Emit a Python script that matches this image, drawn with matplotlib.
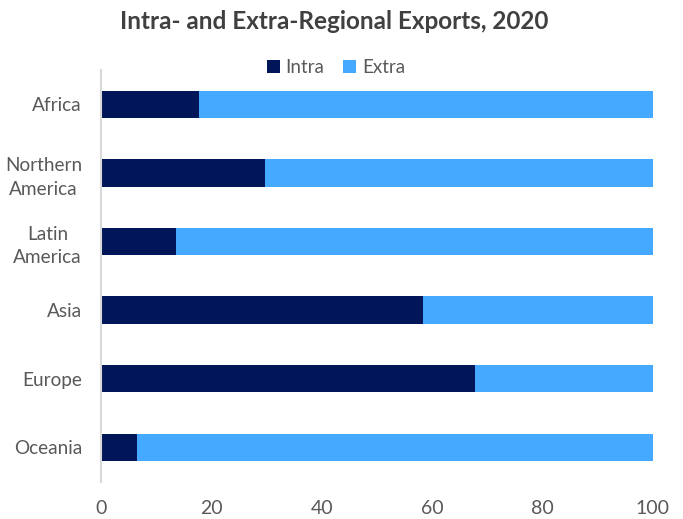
import matplotlib.pyplot as plt

regions = ['Africa', 'Northern\nAmerica', 'Latin\nAmerica', 'Asia', 'Europe', 'Oceania']
intra = [17.7, 29.7, 13.6, 58.3, 67.7, 6.4]
extra = [100 - v for v in intra]

plt.rcParams['font.family'] = ['Lato', 'DejaVu Sans']

fig = plt.figure(figsize=(6.83, 5.19), dpi=100)
ax = fig.add_axes([0.1486, 0.072, 0.8074, 0.793])

ypos = list(range(len(regions)))[::-1]
ax.barh(ypos, intra, height=0.4, color='#001659', label='Intra')
ax.barh(ypos, extra, left=intra, height=0.4, color='#45A9FF', label='Extra')

ax.set_xlim(0, 100)
ax.set_ylim(-0.5, 5.5)
ax.set_xticks([0, 20, 40, 60, 80, 100])
ax.set_yticks(ypos)
ax.set_yticklabels(regions, ha='right', multialignment='center', linespacing=1.45)
ax.tick_params(axis='y', length=0, pad=14, labelsize=13.7, labelcolor='#595959')
ax.tick_params(axis='x', length=0, pad=13, labelsize=14, labelcolor='#595959')

for side in ['top', 'right', 'bottom']:
    ax.spines[side].set_visible(False)
ax.spines['left'].set_color('#d9d9d9')
ax.spines['left'].set_linewidth(1.5)

fig.text(0.489, 0.958, 'Intra- and Extra-Regional Exports, 2020', ha='center', va='center',
         fontsize=17.5, fontweight='bold', color='#404040')
fig.legend(loc='center', bbox_to_anchor=(0.492, 0.869), ncol=2, frameon=False,
           handlelength=0.7, handleheight=0.7, handletextpad=0.3, columnspacing=1.0,
           fontsize=13.5, labelcolor='#595959')

fig.savefig('out.png', dpi=100)
